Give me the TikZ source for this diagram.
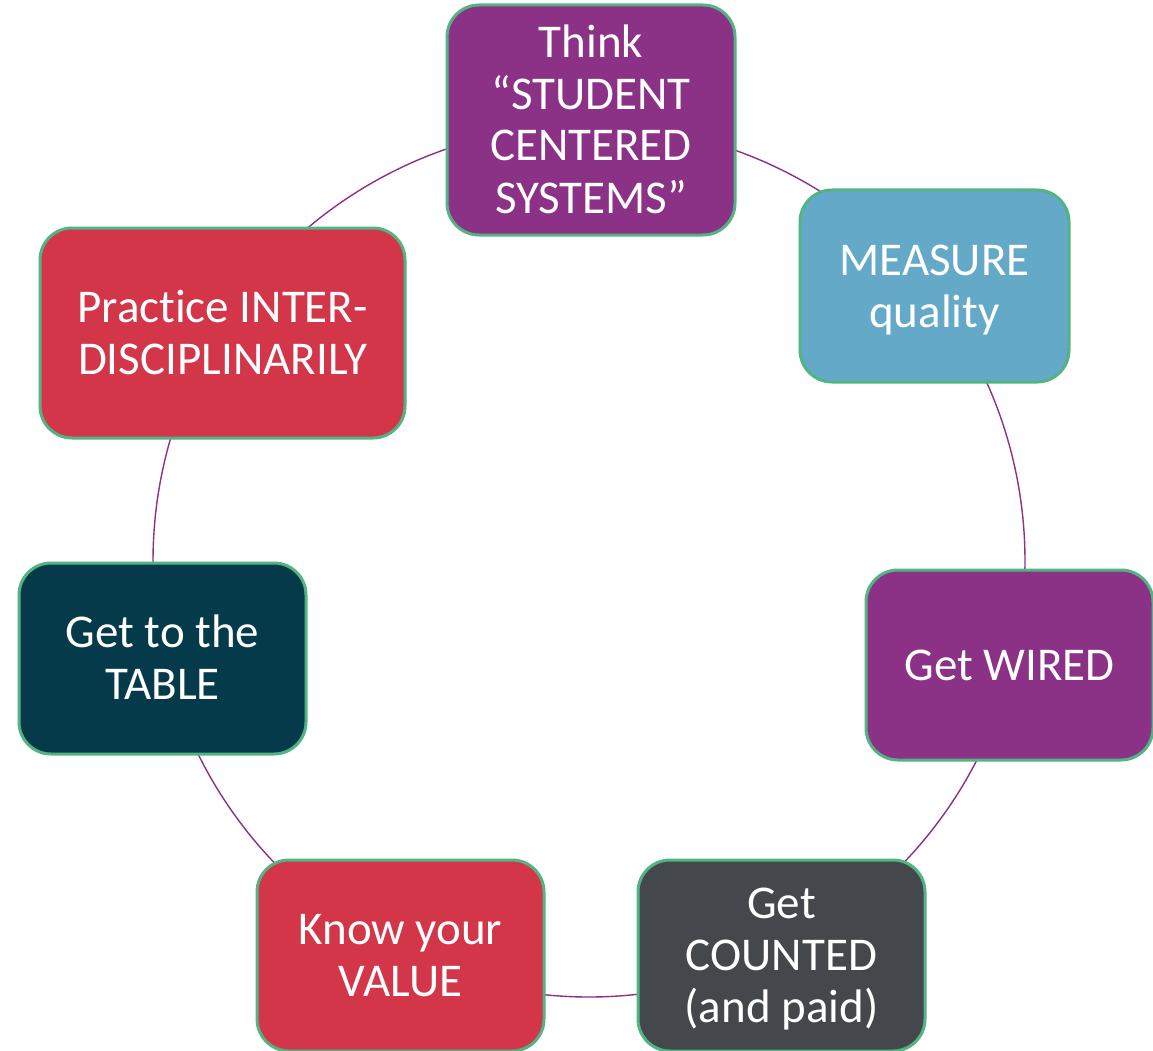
\documentclass[tikz,border=0pt]{standalone}
\usepackage{fontspec}
\setmainfont{Carlito}[RawFeature={-liga;-clig;-dlig}]
\usetikzlibrary{backgrounds,calc}
\definecolor{cpurple}{HTML}{8B3186}
\definecolor{cblue}{HTML}{64AAC8}
\definecolor{cred}{HTML}{D33649}
\definecolor{cteal}{HTML}{053A4A}
\definecolor{cgray}{HTML}{44474C}
\definecolor{cgreen}{HTML}{52B483}
\definecolor{cline}{HTML}{8B3186}
\newcommand\sx{\rule[-10pt]{0pt}{50pt}}
\tikzset{
  cbox/.style={draw=cgreen, line width=3pt, rounded corners=32pt, inner sep=0pt,
    text=white, align=center, font=\fontsize{47}{52}\selectfont},
  ring/.style={draw=cline, line width=1.4pt}
}
\begin{document}
\begin{tikzpicture}[x=1pt,y=-1pt]
\useasboundingbox (0,0) rectangle (1153,1051);
\clip (0,0) rectangle (1153,1051);
\coordinate (c) at (589,561);
\node[cbox, fill=cpurple, minimum width=288pt, minimum height=230pt] (n1) at (591,120) {\sx Think\\\sx“STUDENT\\\sx CENTERED\\\sx SYSTEMS”};
\node[cbox, fill=cblue, minimum width=269pt, minimum height=192pt] (n2) at (934.5,286) {\sx MEASURE\\\sx quality};
\node[cbox, fill=cpurple, minimum width=287pt, minimum height=190pt] (n3) at (1009.5,665) {\sx Get WIRED};
\node[cbox, fill=cgray, minimum width=287pt, minimum height=191pt] (n4) at (781.5,955.5) {\sx Get\\\sx COUNTED\\\sx(and paid)};
\node[cbox, fill=cred, minimum width=287pt, minimum height=191pt] (n5) at (400.5,955.5) {\sx Know your\\\sx VALUE};
\node[cbox, fill=cteal, minimum width=287pt, minimum height=191pt] (n6) at (162.5,658.5) {\sx Get to the\\\sx TABLE};
\node[cbox, fill=cred, minimum width=365pt, minimum height=210pt] (n7) at (222.5,333) {\sx Pract\kern0pt ice INTER-\\\sx DISCIPLINARILY};
\begin{scope}[on background layer]
\fill[white] (0,0) rectangle (1153,1051);
\foreach \a/\b in {90/38.57, 38.57/-12.86, -12.86/-64.29, -64.29/-115.71, -115.71/-167.14, -167.14/-218.57, -218.57/-270}
  \draw[ring] ($(c)+(-\a:436pt)$) arc[start angle=-\a, end angle=-\b, radius=436pt];
\end{scope}
\end{tikzpicture}
\end{document}
